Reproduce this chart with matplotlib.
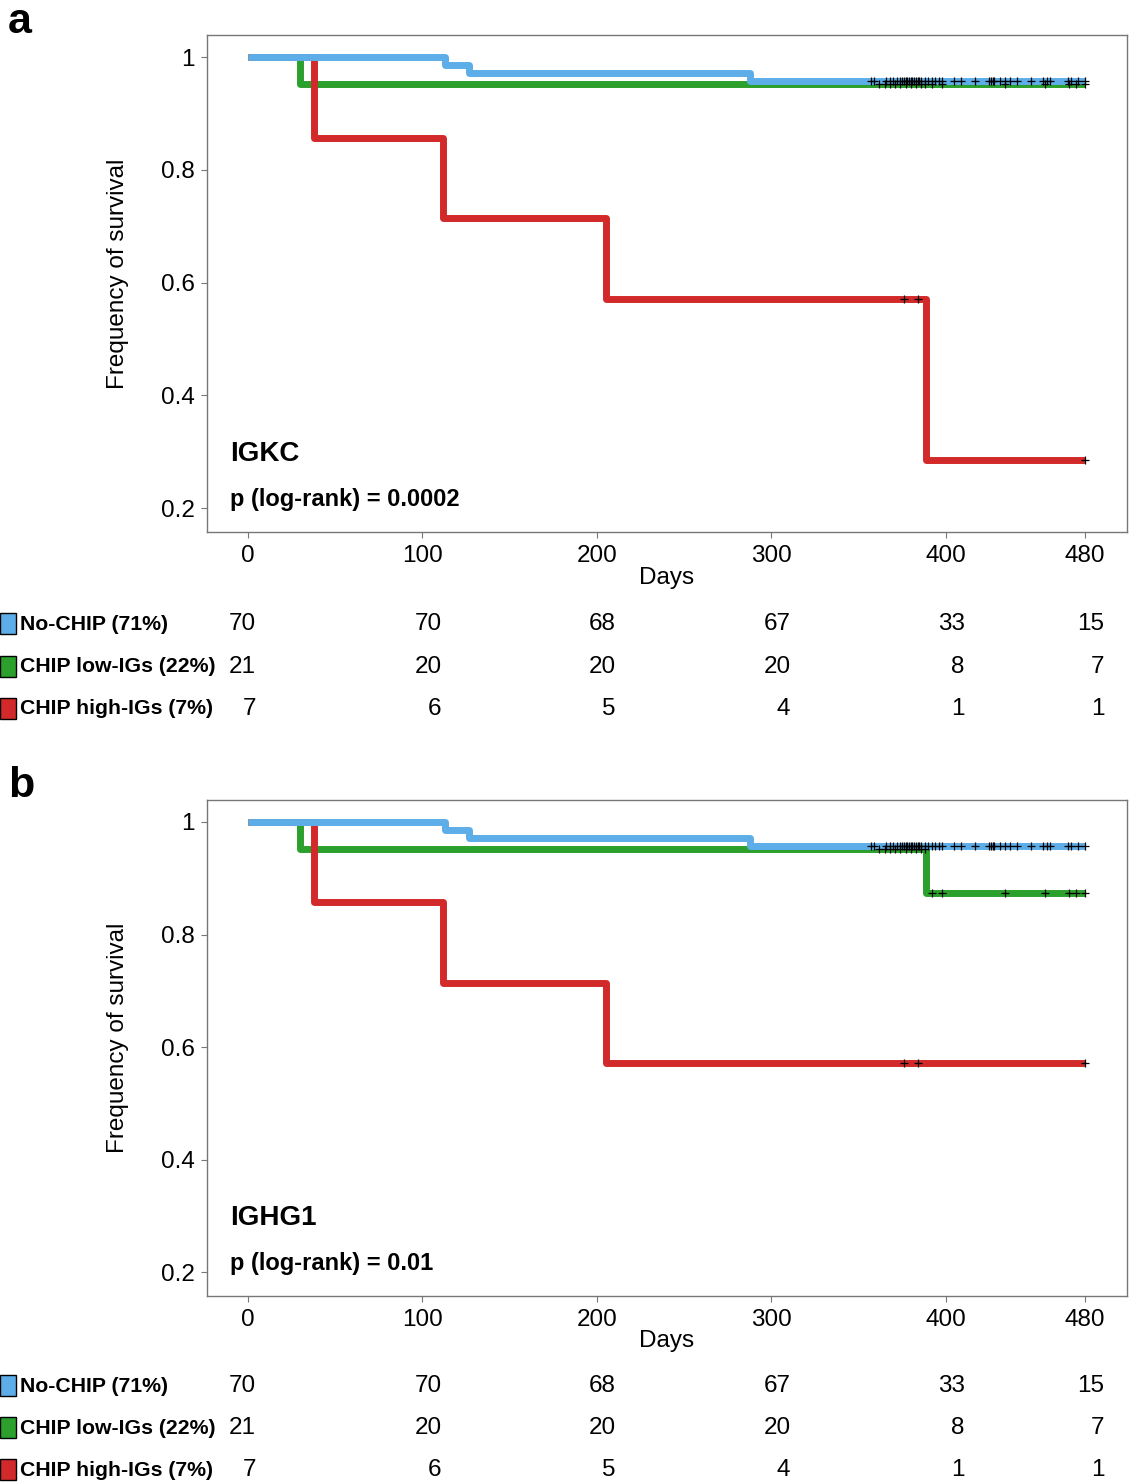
import numpy as np
import matplotlib
matplotlib.use("Agg")
from matplotlib import pyplot as plt
from matplotlib.transforms import blended_transform_factory
from matplotlib.patches import Rectangle

plt.rcParams['font.family'] = ['Liberation Sans', 'DejaVu Sans']

# groups
groups = ["No-CHIP (71%)", "CHIP low-IGs (22%)", "CHIP high-IGs (7%)"]
colors = ["#5DADE8", "#2CA02C", "#D22A2A"]

# risk table (same for both panels)
risk_times = [0, 100, 200, 300, 400, 480]
risk_blue = [70, 70, 68, 67, 33, 15]
risk_green = [21, 20, 20, 20, 8, 7]
risk_red = [7, 6, 5, 4, 1, 1]

# panel a (IGKC)
a_blue_t = [0, 113, 127, 288]
a_blue_s = [1.0, 0.986, 0.971, 0.957]
a_green_t = [0, 30]
a_green_s = [1.0, 0.952]
a_red_t = [0, 38, 112, 205, 389]
a_red_s = [1.0, 0.857, 0.714, 0.571, 0.286]

# panel b (IGHG1)
b_blue_t = [0, 113, 127, 288]
b_blue_s = [1.0, 0.986, 0.971, 0.957]
b_green_t = [0, 30, 389]
b_green_s = [1.0, 0.952, 0.873]
b_red_t = [0, 38, 112, 205]
b_red_s = [1.0, 0.857, 0.714, 0.571]

# censored times
cens_blue = [357, 359, 366, 368, 370, 372, 374, 375, 376, 377, 378, 379, 380, 381,
             382, 383, 384, 385, 386, 388, 390, 392, 394, 396, 398, 405, 409, 417,
             425, 426, 427, 428, 431, 434, 437, 441, 449, 456, 458, 460, 470, 472,
             476, 480]
cens_green = [362, 365, 368, 371, 374, 377, 380, 383, 386, 388, 392, 398, 434, 457,
              471, 475, 480]
cens_red = [376, 384, 480]

t_end = 480


def surv_at(t_ev, s_ev, t):
    idx = np.searchsorted(t_ev, t, side='right') - 1
    return np.array(s_ev)[idx]


def panel(fig, rect, curves, gene, pval, letter, letter_y, row_y):
    ax = fig.add_axes(rect)
    zo = {1: 2, 2: 3, 0: 4}   # green, red, blue on top
    cens = [cens_blue, cens_green, cens_red]
    for k in [1, 2, 0]:
        t_ev, s_ev = curves[k]
        tt = list(t_ev) + [t_end]
        ss = list(s_ev) + [s_ev[-1]]
        ax.step(tt, ss, where='post', color=colors[k], lw=5,
                solid_joinstyle='round', solid_capstyle='butt', zorder=zo[k])
    for k in [1, 2, 0]:
        t_ev, s_ev = curves[k]
        ct = np.array(cens[k])
        ax.plot(ct, surv_at(t_ev, s_ev, ct), '+', color='black', ms=6, mew=0.9,
                zorder=6)

    ax.set_xlim(-23.5, 504)
    ax.set_ylim(0.158, 1.039)
    ax.set_xticks([0, 100, 200, 300, 400, 480])
    ax.set_yticks([0.2, 0.4, 0.6, 0.8, 1.0])
    ax.set_yticklabels(["0.2", "0.4", "0.6", "0.8", "1"])
    ax.tick_params(labelsize=17.5, length=4, width=0.8, color='#777777', pad=5)
    for sp in ax.spines.values():
        sp.set_color('#777777')
        sp.set_linewidth(1)
    ax.set_xlabel("Days", fontsize=17.5, labelpad=0)
    ax.set_ylabel("Frequency of survival", fontsize=17.5)
    ax.yaxis.set_label_coords(-0.085, 0.52)

    ax.text(0.025, 0.143, gene, transform=ax.transAxes, fontsize=20,
            fontweight='bold', va='baseline')
    ax.text(0.025, 0.053, pval, transform=ax.transAxes, fontsize=17,
            fontweight='bold', va='baseline')

    fig.text(8 / 1133, 1 - letter_y / 1482, letter, fontsize=31, fontweight='bold',
             va='baseline')

    # risk table
    tr = blended_transform_factory(ax.transData, fig.transFigure)
    rows = [risk_blue, risk_green, risk_red]
    for r in range(3):
        y = 1 - row_y[r] / 1482
        fig.patches.append(Rectangle((0, y - 10 / 1482), 16 / 1133, 21 / 1482,
                                     transform=fig.transFigure, facecolor=colors[r],
                                     edgecolor='black', lw=1))
        fig.text(20 / 1133, y, groups[r], fontsize=15.3, fontweight='bold',
                 va='center')
        for j, t in enumerate(risk_times):
            off = 4.6 if j == 0 else 11
            fig.text(t + off, y, str(rows[r][j]), transform=tr, fontsize=17.5,
                     ha='right', va='center')
    return ax


fig = plt.figure(figsize=(11.33, 14.82), dpi=100)

panel(fig, [207 / 1133, 1 - 532 / 1482, 920 / 1133, 497 / 1482],
      [(a_blue_t, a_blue_s), (a_green_t, a_green_s), (a_red_t, a_red_s)],
      "IGKC", "p (log-rank) = 0.0002", "a", 33, [624, 667, 709])

panel(fig, [207 / 1133, 1 - 1296 / 1482, 920 / 1133, 496 / 1482],
      [(b_blue_t, b_blue_s), (b_green_t, b_green_s), (b_red_t, b_red_s)],
      "IGHG1", "p (log-rank) = 0.01", "b", 797, [1386, 1428, 1470])

plt.savefig("out.png", dpi=100)
